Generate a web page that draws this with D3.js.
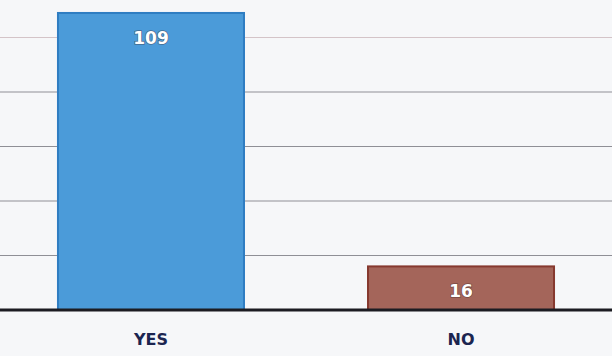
<!DOCTYPE html>
<html><head><meta charset="utf-8">
<script src="https://cdn.jsdelivr.net/npm/d3@7"></script>
<style>html,body{margin:0;padding:0;background:#f6f7f9;}svg{display:block;}</style>
</head><body>
<script>
const categories = ["YES", "NO"];
const values = [109, 16];
const gridTicks = [20, 40, 60, 80, 100];
const barFill = ["#4b9bd9", "#a4655a"];
const barStroke = ["#2f7dc2", "#86392f"];

const W = 612, H = 356;
const svg = d3.select("body").append("svg").attr("width", W).attr("height", H);
svg.append("rect").attr("width", W).attr("height", H).attr("fill", "#f6f7f9");

const x = d3.scaleBand().domain(categories).range([0, W]).paddingInner(0.4).paddingOuter(0.187);
const y = d3.scaleLinear().domain([0, 120]).range([310, -17]);

// gridlines
svg.append("g").selectAll("line").data(gridTicks).join("line")
  .attr("x1", 0).attr("x2", W)
  .attr("y1", d => y(d)).attr("y2", d => y(d))
  .attr("stroke", d => d === 100 ? "#d4c4c8" : "#8f8f96").attr("stroke-width", 1);

// bars
svg.append("g").selectAll("rect").data(values).join("rect")
  .attr("x", (d, i) => x(categories[i]))
  .attr("width", x.bandwidth())
  .attr("y", d => y(d))
  .attr("height", d => y(0) - y(d))
  .attr("fill", (d, i) => barFill[i])
  .attr("stroke", (d, i) => barStroke[i])
  .attr("stroke-width", 2);

// baseline
svg.append("line").attr("x1", 0).attr("x2", W).attr("y1", y(0)).attr("y2", y(0))
  .attr("stroke", "#1c1c22").attr("stroke-width", 3);

// value labels
svg.append("g").selectAll("text").data(values).join("text")
  .attr("x", (d, i) => x(categories[i]) + x.bandwidth() / 2)
  .attr("y", d => y(d) + 31)
  .attr("text-anchor", "middle")
  .attr("font-family", "'DejaVu Sans', sans-serif")
  .attr("font-weight", "bold").attr("font-size", 17)
  .attr("fill", "#ffffff")
  .style("paint-order", "stroke").attr("stroke", "rgba(60,40,40,0.45)").attr("stroke-width", 1.5)
  .text(d => d);

// category labels
svg.append("g").selectAll("text").data(categories).join("text")
  .attr("x", d => x(d) + x.bandwidth() / 2)
  .attr("y", 345)
  .attr("text-anchor", "middle")
  .attr("font-family", "'DejaVu Sans', sans-serif")
  .attr("font-weight", "bold").attr("font-size", 16)
  .attr("fill", "#1b2550")
  .text(d => d);
</script>
</body></html>
